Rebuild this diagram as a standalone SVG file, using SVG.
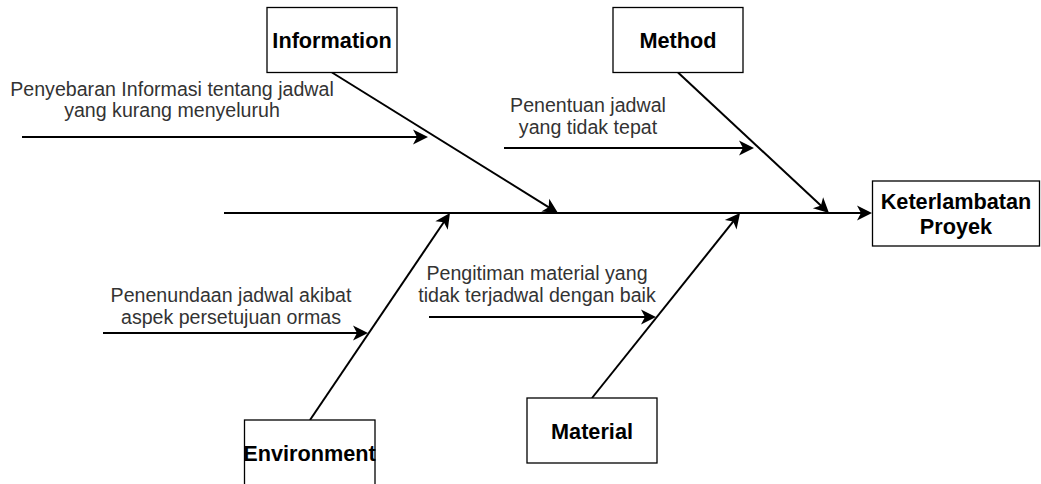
<svg xmlns="http://www.w3.org/2000/svg" width="1041" height="484" viewBox="0 0 1041 484">
  <style>
    .box { fill: #ffffff; stroke: #000000; stroke-width: 1.3; }
    .title { font-family: "Liberation Sans", Arial, Helvetica, sans-serif; font-size: 21.7px; font-weight: bold; fill: #000000; text-anchor: middle; }
    .cause { font-family: "Liberation Sans", Arial, Helvetica, sans-serif; font-size: 19.6px; fill: #333333; text-anchor: middle; }
    .line { stroke: #000000; stroke-width: 2; fill: none; marker-end: url(#arr); }
  </style>
  <defs>
    <marker id="arr" markerUnits="userSpaceOnUse" markerWidth="16" markerHeight="16" viewBox="0 -8 16 16" refX="9" refY="0" orient="auto" overflow="visible">
      <path d="M0,-7.5 L15,0 L0,7.5 L4,0 Z" fill="#000000"/>
    </marker>
  </defs>
  <rect width="1041" height="484" fill="#ffffff"/>

  <g id="connectors">
    <line class="line" x1="224" y1="213" x2="866" y2="213"/>
    <line class="line" x1="332" y1="72.5" x2="552.9" y2="209.8"/>
    <line class="line" x1="678" y1="72.5" x2="824.6" y2="208.9"/>
    <line class="line" x1="310" y1="420" x2="446.6" y2="218"/>
    <line class="line" x1="592" y1="398" x2="736.3" y2="217.7"/>
    <line class="line" x1="22" y1="137" x2="422" y2="137"/>
    <line class="line" x1="504" y1="148" x2="748" y2="148"/>
    <line class="line" x1="103" y1="333" x2="362" y2="333"/>
    <line class="line" x1="429" y1="317" x2="650" y2="317"/>
  </g>

  <g id="information">
    <rect class="box" x="267" y="7.5" width="130" height="65"/>
    <text class="title" x="332" y="48">Information</text>
  </g>
  <g id="method">
    <rect class="box" x="613" y="7.5" width="130" height="65"/>
    <text class="title" x="678" y="48">Method</text>
  </g>
  <g id="effect">
    <rect class="box" x="872.5" y="181" width="167" height="65"/>
    <text class="title" x="956" y="209">Keterlambatan</text>
    <text class="title" x="956" y="234">Proyek</text>
  </g>
  <g id="environment">
    <rect class="box" x="244.5" y="420" width="130.5" height="75"/>
    <text class="title" x="309.5" y="461">Environment</text>
  </g>
  <g id="material">
    <rect class="box" x="527" y="398" width="130" height="65"/>
    <text class="title" x="592" y="439">Material</text>
  </g>

  <g id="cause-information">
    <text class="cause" x="172" y="96">Penyebaran Informasi tentang jadwal</text>
    <text class="cause" x="172" y="117">yang kurang menyeluruh</text>
  </g>
  <g id="cause-method">
    <text class="cause" x="588" y="111.5">Penentuan jadwal</text>
    <text class="cause" x="588" y="133.5">yang tidak tepat</text>
  </g>
  <g id="cause-environment">
    <text class="cause" x="231" y="302">Penenundaan jadwal akibat</text>
    <text class="cause" x="231" y="324">aspek persetujuan ormas</text>
  </g>
  <g id="cause-material">
    <text class="cause" x="537" y="280">Pengitiman material yang</text>
    <text class="cause" x="537" y="302">tidak terjadwal dengan baik</text>
  </g>
</svg>
